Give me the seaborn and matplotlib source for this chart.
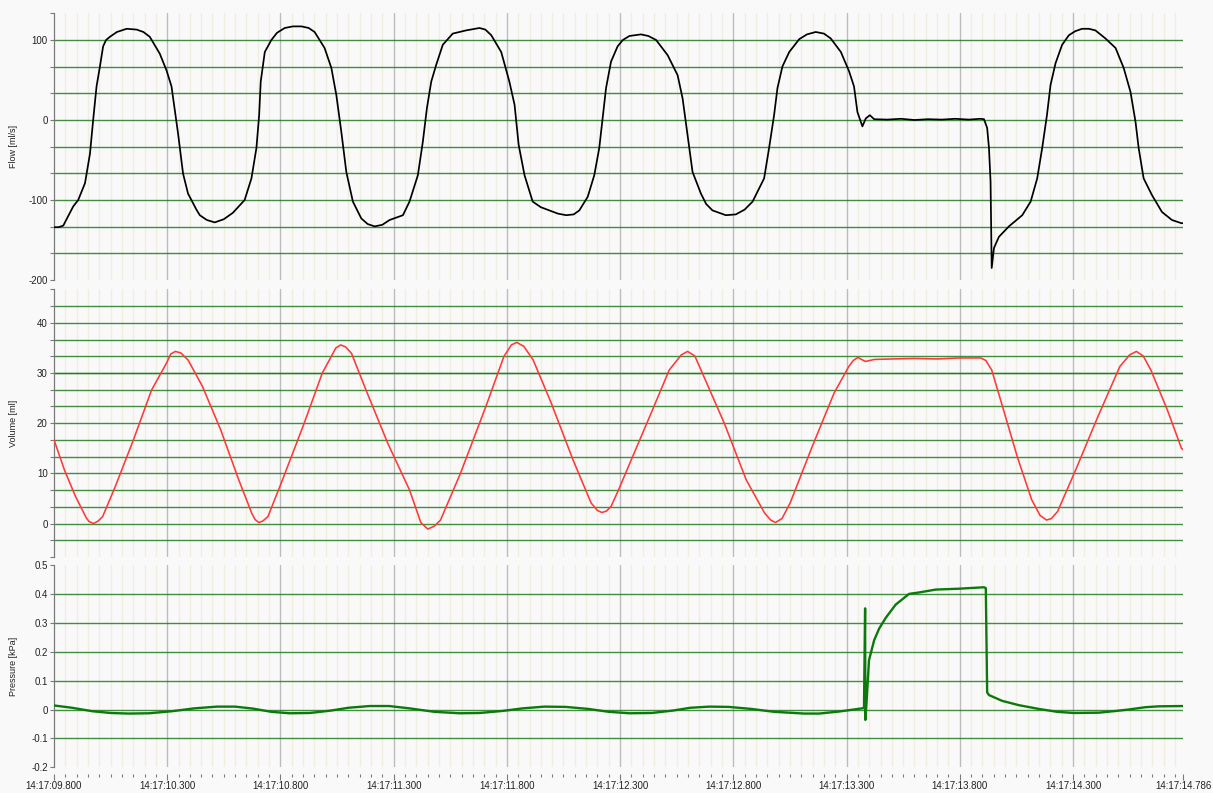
"""Recreate the three-panel ventilator trace (flow, volume, pressure) from a LabVIEW-style screen."""

import matplotlib

matplotlib.use("Agg")
import matplotlib.pyplot as plt
import numpy as np
import seaborn as sns
from matplotlib.ticker import FixedLocator, FuncFormatter, NullLocator

# time in ms since 14:17:09.800
flow_t_ms = [
    0, 20, 41, 85, 107, 137, 159, 173, 188, 203, 217, 230, 247, 278, 321, 365, 395, 423,
    467, 497, 519, 548, 570, 592, 629, 644, 675, 710, 750, 790, 842, 872, 894, 906, 913,
    931, 960, 985, 1019, 1055, 1093, 1125, 1151, 1195, 1225, 1247, 1269, 1291, 1320, 1357,
    1385, 1416, 1450, 1482, 1541, 1570, 1607, 1629, 1647, 1666, 1688, 1717, 1761, 1820,
    1879, 1905, 1931, 1975, 2011, 2034, 2052, 2078, 2114, 2150, 2188, 2225, 2262, 2295,
    2320, 2357, 2386, 2408, 2423, 2438, 2460, 2489, 2512, 2541, 2592, 2625, 2659, 2710,
    2754, 2776, 2798, 2820, 2857, 2880, 2908, 2967, 3011, 3050, 3085, 3136, 3158, 3180,
    3195, 3217, 3247, 3291, 3325, 3364, 3400, 3430, 3475, 3511, 3533, 3548, 3570, 3585,
    3603, 3622, 3680, 3740, 3800, 3860, 3920, 3980, 4040, 4090, 4107, 4121, 4129, 4136,
    4141, 4151, 4173, 4217, 4276, 4313, 4342, 4364, 4385, 4401, 4423, 4452, 4482, 4510,
    4540, 4570, 4599, 4643, 4688, 4724, 4754, 4776, 4790, 4812, 4849, 4893, 4937, 4979,
    4986,
]
flow_vals = [
    -134, -134, -132, -108, -100, -79, -42, 0, 42, 67, 92, 100, 104, 110, 114, 113, 110, 104,
    83, 62, 42, -17, -67, -92, -112, -119, -125, -128, -124, -116, -100, -73, -35, 6, 48,
    85, 100, 109, 115, 117, 117, 115, 110, 90, 65, 31, -15, -65, -102, -123,
    -130, -133, -131, -125, -119, -102, -69, -27, 15, 48, 69, 94, 108, 112,
    115, 113, 106, 85, 48, 19, -31, -69, -102, -109, -113, -117, -119, -118,
    -113, -96, -69, -35, 2, 40, 73, 92, 100, 105, 107, 105, 100, 81,
    56, 27, -19, -65, -92, -105, -113, -119, -118, -112, -102, -73, -35, 6,
    40, 67, 85, 101, 107, 110, 108, 102, 85, 61, 42, 10, -8, 2,
    6, 1, 0.5, 1.5, 0, 1, 0.5, 1.5, 0.5, 1.5, 1, -10, -35, -77,
    -185, -160, -146, -133, -119, -102, -73, -35, 6, 44, 71, 94, 106, 111,
    114, 114, 112, 102, 90, 65, 35, -2, -35, -73, -94, -115, -125, -129,
    -129,
]

vol_t_ms = [
    0, 46, 95, 143, 155, 175, 195, 215, 271, 351, 431, 496, 516, 536, 560, 592, 656, 736,
    816, 873, 888, 905, 922, 945, 1009, 1105, 1185, 1245, 1266, 1288, 1314, 1378, 1474,
    1570, 1620, 1651, 1680, 1707, 1795, 1907, 1987, 2020, 2044, 2075, 2116, 2196, 2292,
    2372, 2400, 2420, 2440, 2460, 2493, 2555, 2637, 2717, 2770, 2798, 2830, 2863, 2960,
    3057, 3138, 3165, 3186, 3215, 3251, 3348, 3445, 3510, 3530, 3550, 3583, 3623, 3700,
    3800, 3900, 4000, 4092, 4115, 4141, 4189, 4254, 4318, 4355, 4383, 4405, 4432, 4512,
    4610, 4707, 4750, 4780, 4810, 4844, 4917, 4979, 4986,
]
vol_vals = [
    16.7, 10.7, 5.4, 1.1, 0.4, 0.0, 0.5, 1.4, 7.4, 16.7, 26.6, 31.9, 33.8, 34.3, 34.0, 32.6, 27.3, 18.7,
    8.7, 2.1, 0.8, 0.2, 0.5, 1.4, 8.7, 20.0, 30.0, 35.0, 35.6, 35.2, 33.9, 26.6, 16.0,
    6.7, 0.2, -1.1, -0.5, 0.7, 10.0, 23.3, 33.3, 35.6, 36.1, 35.3, 32.6, 24.0, 12.7,
    4.1, 2.6, 2.2, 2.5, 3.4, 6.7, 13.3, 22.0, 30.6, 33.6, 34.3, 33.4, 30.0, 20.0,
    8.7, 2.1, 0.7, 0.2, 1.0, 4.1, 15.3, 26.0, 31.3, 32.5, 33.1, 32.3, 32.7, 32.8,
    32.9, 32.8, 33.0, 33.0, 32.5, 30.6, 23.3, 13.3, 4.7, 1.6, 0.7, 1.0, 2.4, 10.7,
    21.3, 31.3, 33.6, 34.3, 33.4, 30.6, 22.6, 15.0, 14.7,
]

pres_t_ms = [
    0, 80, 170, 250, 330, 420, 520, 620, 720, 800, 880, 960, 1041, 1130, 1220, 1300,
    1394, 1480, 1570, 1680, 1791, 1880, 1980, 2070, 2166, 2260, 2360, 2450, 2541, 2640,
    2730, 2810, 2894, 2980, 3080, 3180, 3313, 3379, 3467, 3541, 3577, 3582, 3583, 3588,
    3599, 3622, 3644, 3673, 3717, 3776, 3820, 3894, 3996, 4107, 4115, 4121, 4129, 4187,
    4261, 4349, 4430, 4504, 4614, 4690, 4746, 4820, 4879, 4986,
]
pres_vals = [
    0.014, 0.006, -0.006, -0.012, -0.014, -0.013, -0.006, 0.004, 0.010, 0.010, 0.003, -0.008, -0.013, -0.012, -0.004, 0.006,
    0.012, 0.012, 0.004, -0.008, -0.013, -0.012, -0.005, 0.004, 0.010, 0.009, 0.002, -0.008, -0.013, -0.012,
    -0.004, 0.006, 0.010, 0.009, 0.002, -0.008, -0.014, -0.014, -0.007, 0.001, 0.005, 0.35, -0.036, 0.018,
    0.17, 0.24, 0.28, 0.317, 0.363, 0.40, 0.405, 0.415, 0.418, 0.423, 0.42, 0.059, 0.05, 0.03,
    0.015, 0.002, -0.008, -0.012, -0.011, -0.005, 0.0, 0.008, 0.011, 0.012,
]

T_END_MS = 4986
X_MAJOR = [0, 500, 1000, 1500, 2000, 2500, 3000, 3500, 4000, 4500, T_END_MS]

BG = "#f9f9f9"
GREEN_GRID = "#1f7d1f"
BEIGE_GRID = "#f0eee0"
GRAY_GRID = "#bcbcbc"
AXIS_GRAY = "#7a7a7a"
FONT_TICK = 7
FONT_LABEL = 6.5

sns.set_style("white")
plt.rcParams["font.family"] = ["Liberation Sans", "DejaVu Sans"]
plt.rcParams["axes.unicode_minus"] = False


def _time_label(ms, _pos=None):
    secs = 9.8 + ms / 1000.0
    return f"14:17:{secs:06.3f}"


def _style_panel(ax, ylim, major, minor, ylabel, fmt, show_x):
    ax.set_facecolor(BG)
    ax.set_xlim(0, T_END_MS)
    ax.set_ylim(*ylim)
    for side in ("top", "right", "bottom"):
        ax.spines[side].set_visible(False)
    ax.spines["left"].set_color(AXIS_GRAY)
    ax.spines["left"].set_linewidth(0.9)

    # vertical grid: fine beige every 50 ms, grey every 500 ms
    for t in np.arange(50, T_END_MS, 50):
        if t % 500 == 0:
            ax.axvline(t, color=GRAY_GRID, lw=1.0, zorder=0.6)
        else:
            ax.axvline(t, color=BEIGE_GRID, lw=1.0, zorder=0.5)

    # horizontal green grid at every tick inside the panel
    lo, hi = ylim
    for y in sorted(set(list(major) + list(minor))):
        if lo + 1e-9 < y < hi - 1e-9:
            ax.axhline(y, color=GREEN_GRID, lw=1.0, alpha=0.85, zorder=1)

    ax.yaxis.set_major_locator(FixedLocator(major))
    ax.yaxis.set_minor_locator(FixedLocator(minor))
    ax.yaxis.set_major_formatter(FuncFormatter(fmt))
    ax.tick_params(axis="y", which="both", direction="out", length=3, width=0.8,
                   color=AXIS_GRAY, left=True, labelsize=FONT_TICK, pad=1.5,
                   labelcolor="#222222")
    ax.set_ylabel(ylabel, fontsize=FONT_LABEL, color="#222222")
    ax.yaxis.set_label_coords(-0.032, 0.5)

    if show_x:
        ax.spines["bottom"].set_visible(True)
        ax.spines["bottom"].set_position(("outward", 4.5))
        ax.spines["bottom"].set_color("none")
        ax.xaxis.set_major_locator(FixedLocator(X_MAJOR))
        ax.xaxis.set_minor_locator(FixedLocator(np.arange(0, T_END_MS, 50)))
        ax.xaxis.set_major_formatter(FuncFormatter(_time_label))
        ax.tick_params(axis="x", which="major", direction="out", length=4, width=0.8,
                       color=AXIS_GRAY, bottom=True, labelsize=FONT_TICK, pad=1,
                       labelcolor="#222222")
        ax.tick_params(axis="x", which="minor", direction="out", length=2, width=0.8,
                       color=AXIS_GRAY, bottom=True)
    else:
        ax.xaxis.set_major_locator(NullLocator())
        ax.xaxis.set_minor_locator(NullLocator())
    ax.set_xlabel("")


fig = plt.figure(figsize=(12.13, 7.93), dpi=100, facecolor=BG)
left, width = 0.0445, 0.9308
ax_flow = fig.add_axes([left, 0.6469, width, 0.3363])
ax_vol = fig.add_axes([left, 0.2976, width, 0.3375])
ax_pres = fig.add_axes([left, 0.0324, width, 0.2551])

sns.lineplot(x=flow_t_ms, y=flow_vals, ax=ax_flow, color="black", linewidth=1.25,
             estimator=None, sort=False, zorder=3)
sns.lineplot(x=vol_t_ms, y=vol_vals, ax=ax_vol, color="#ff3838", linewidth=1.15,
             estimator=None, sort=False, zorder=3)
sns.lineplot(x=pres_t_ms, y=pres_vals, ax=ax_pres, color="#0b7a0b", linewidth=1.7,
             estimator=None, sort=False, zorder=3)

flow_minor = [-200 + i * 100 / 3 for i in range(11)]
vol_minor = [-20 / 3 + i * 10 / 3 for i in range(17)]
pres_major = [round(-0.2 + i * 0.1, 1) for i in range(8)]

_style_panel(ax_flow, (-200, 400 / 3), [-200, -100, 0, 100], flow_minor,
             "Flow [ml/s]", lambda v, _p: f"{v:.0f}", show_x=False)
_style_panel(ax_vol, (-20 / 3, 140 / 3), [0, 10, 20, 30, 40], vol_minor,
             "Volume [ml]", lambda v, _p: f"{v:.0f}", show_x=False)
_style_panel(ax_pres, (-0.2, 0.5), pres_major, [],
             "Pressure [kPa]",
             lambda v, _p: "0" if abs(v) < 1e-9 else f"{v:.1f}", show_x=True)

fig.savefig("out.png", dpi=100, facecolor=BG)
